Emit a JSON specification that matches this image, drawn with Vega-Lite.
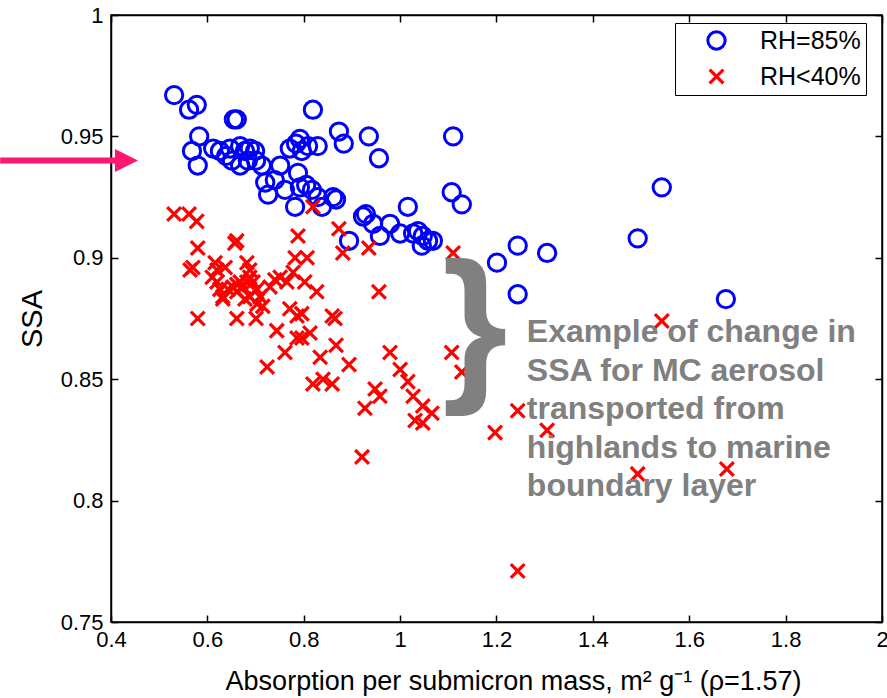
{
  "$schema": "https://vega.github.io/schema/vega-lite/v6.json",
  "width": 771,
  "height": 607,
  "autosize": "none",
  "padding": {"left": 111, "top": 15, "right": 5, "bottom": 76},
  "background": "white",
  "config": {
    "view": {"stroke": "black", "strokeWidth": 1.5},
    "axis": {
      "grid": false,
      "domainColor": "black",
      "domainWidth": 1.5,
      "tickColor": "black",
      "tickWidth": 1.5,
      "tickSize": -7,
      "labelFont": "Liberation Sans",
      "labelFontSize": 22,
      "labelColor": "black",
      "titleFont": "Liberation Sans",
      "titleFontWeight": "normal",
      "titleColor": "black"
    },
    "legend": {
      "labelFont": "Liberation Sans",
      "labelFontSize": 24,
      "labelColor": "black"
    }
  },
  "datasets": {
    "pts": [
      {"x": 0.531, "y": 0.967, "series": "RH=85%"},
      {"x": 0.562, "y": 0.961, "series": "RH=85%"},
      {"x": 0.578, "y": 0.963, "series": "RH=85%"},
      {"x": 0.583, "y": 0.950, "series": "RH=85%"},
      {"x": 0.568, "y": 0.944, "series": "RH=85%"},
      {"x": 0.580, "y": 0.938, "series": "RH=85%"},
      {"x": 0.612, "y": 0.945, "series": "RH=85%"},
      {"x": 0.626, "y": 0.944, "series": "RH=85%"},
      {"x": 0.639, "y": 0.942, "series": "RH=85%"},
      {"x": 0.655, "y": 0.957, "series": "RH=85%"},
      {"x": 0.661, "y": 0.957, "series": "RH=85%"},
      {"x": 0.647, "y": 0.945, "series": "RH=85%"},
      {"x": 0.651, "y": 0.940, "series": "RH=85%"},
      {"x": 0.668, "y": 0.938, "series": "RH=85%"},
      {"x": 0.678, "y": 0.944, "series": "RH=85%"},
      {"x": 0.688, "y": 0.945, "series": "RH=85%"},
      {"x": 0.699, "y": 0.944, "series": "RH=85%"},
      {"x": 0.668, "y": 0.946, "series": "RH=85%"},
      {"x": 0.684, "y": 0.940, "series": "RH=85%"},
      {"x": 0.701, "y": 0.940, "series": "RH=85%"},
      {"x": 0.713, "y": 0.938, "series": "RH=85%"},
      {"x": 0.720, "y": 0.931, "series": "RH=85%"},
      {"x": 0.726, "y": 0.926, "series": "RH=85%"},
      {"x": 0.740, "y": 0.932, "series": "RH=85%"},
      {"x": 0.751, "y": 0.938, "series": "RH=85%"},
      {"x": 0.761, "y": 0.928, "series": "RH=85%"},
      {"x": 0.771, "y": 0.945, "series": "RH=85%"},
      {"x": 0.784, "y": 0.947, "series": "RH=85%"},
      {"x": 0.792, "y": 0.949, "series": "RH=85%"},
      {"x": 0.796, "y": 0.944, "series": "RH=85%"},
      {"x": 0.809, "y": 0.946, "series": "RH=85%"},
      {"x": 0.819, "y": 0.961, "series": "RH=85%"},
      {"x": 0.829, "y": 0.946, "series": "RH=85%"},
      {"x": 0.788, "y": 0.935, "series": "RH=85%"},
      {"x": 0.782, "y": 0.921, "series": "RH=85%"},
      {"x": 0.792, "y": 0.929, "series": "RH=85%"},
      {"x": 0.805, "y": 0.930, "series": "RH=85%"},
      {"x": 0.817, "y": 0.928, "series": "RH=85%"},
      {"x": 0.829, "y": 0.925, "series": "RH=85%"},
      {"x": 0.838, "y": 0.921, "series": "RH=85%"},
      {"x": 0.861, "y": 0.925, "series": "RH=85%"},
      {"x": 0.867, "y": 0.924, "series": "RH=85%"},
      {"x": 0.873, "y": 0.952, "series": "RH=85%"},
      {"x": 0.883, "y": 0.947, "series": "RH=85%"},
      {"x": 0.894, "y": 0.907, "series": "RH=85%"},
      {"x": 0.923, "y": 0.917, "series": "RH=85%"},
      {"x": 0.929, "y": 0.918, "series": "RH=85%"},
      {"x": 0.935, "y": 0.950, "series": "RH=85%"},
      {"x": 0.944, "y": 0.914, "series": "RH=85%"},
      {"x": 0.956, "y": 0.941, "series": "RH=85%"},
      {"x": 0.958, "y": 0.909, "series": "RH=85%"},
      {"x": 0.979, "y": 0.914, "series": "RH=85%"},
      {"x": 1.000, "y": 0.910, "series": "RH=85%"},
      {"x": 1.016, "y": 0.921, "series": "RH=85%"},
      {"x": 1.027, "y": 0.910, "series": "RH=85%"},
      {"x": 1.037, "y": 0.911, "series": "RH=85%"},
      {"x": 1.047, "y": 0.909, "series": "RH=85%"},
      {"x": 1.058, "y": 0.907, "series": "RH=85%"},
      {"x": 1.068, "y": 0.907, "series": "RH=85%"},
      {"x": 1.045, "y": 0.905, "series": "RH=85%"},
      {"x": 1.110, "y": 0.950, "series": "RH=85%"},
      {"x": 1.107, "y": 0.927, "series": "RH=85%"},
      {"x": 1.128, "y": 0.922, "series": "RH=85%"},
      {"x": 1.201, "y": 0.898, "series": "RH=85%"},
      {"x": 1.244, "y": 0.905, "series": "RH=85%"},
      {"x": 1.244, "y": 0.885, "series": "RH=85%"},
      {"x": 1.305, "y": 0.902, "series": "RH=85%"},
      {"x": 1.493, "y": 0.908, "series": "RH=85%"},
      {"x": 1.543, "y": 0.929, "series": "RH=85%"},
      {"x": 1.676, "y": 0.883, "series": "RH=85%"},
      {"x": 0.531, "y": 0.918, "series": "RH<40%"},
      {"x": 0.562, "y": 0.918, "series": "RH<40%"},
      {"x": 0.578, "y": 0.915, "series": "RH<40%"},
      {"x": 0.580, "y": 0.904, "series": "RH<40%"},
      {"x": 0.661, "y": 0.907, "series": "RH<40%"},
      {"x": 0.657, "y": 0.906, "series": "RH<40%"},
      {"x": 0.564, "y": 0.895, "series": "RH<40%"},
      {"x": 0.570, "y": 0.896, "series": "RH<40%"},
      {"x": 0.616, "y": 0.898, "series": "RH<40%"},
      {"x": 0.637, "y": 0.896, "series": "RH<40%"},
      {"x": 0.682, "y": 0.898, "series": "RH<40%"},
      {"x": 0.688, "y": 0.895, "series": "RH<40%"},
      {"x": 0.788, "y": 0.909, "series": "RH<40%"},
      {"x": 0.807, "y": 0.900, "series": "RH<40%"},
      {"x": 0.782, "y": 0.900, "series": "RH<40%"},
      {"x": 0.819, "y": 0.921, "series": "RH<40%"},
      {"x": 0.873, "y": 0.912, "series": "RH<40%"},
      {"x": 0.881, "y": 0.902, "series": "RH<40%"},
      {"x": 0.935, "y": 0.904, "series": "RH<40%"},
      {"x": 0.956, "y": 0.886, "series": "RH<40%"},
      {"x": 0.979, "y": 0.861, "series": "RH<40%"},
      {"x": 0.580, "y": 0.875, "series": "RH<40%"},
      {"x": 0.661, "y": 0.875, "series": "RH<40%"},
      {"x": 0.701, "y": 0.875, "series": "RH<40%"},
      {"x": 0.744, "y": 0.870, "series": "RH<40%"},
      {"x": 0.761, "y": 0.861, "series": "RH<40%"},
      {"x": 0.786, "y": 0.867, "series": "RH<40%"},
      {"x": 0.796, "y": 0.867, "series": "RH<40%"},
      {"x": 0.813, "y": 0.869, "series": "RH<40%"},
      {"x": 0.771, "y": 0.879, "series": "RH<40%"},
      {"x": 0.786, "y": 0.876, "series": "RH<40%"},
      {"x": 0.802, "y": 0.890, "series": "RH<40%"},
      {"x": 0.827, "y": 0.886, "series": "RH<40%"},
      {"x": 0.834, "y": 0.859, "series": "RH<40%"},
      {"x": 0.859, "y": 0.876, "series": "RH<40%"},
      {"x": 0.865, "y": 0.875, "series": "RH<40%"},
      {"x": 0.867, "y": 0.864, "series": "RH<40%"},
      {"x": 0.894, "y": 0.856, "series": "RH<40%"},
      {"x": 0.724, "y": 0.855, "series": "RH<40%"},
      {"x": 0.819, "y": 0.848, "series": "RH<40%"},
      {"x": 0.840, "y": 0.850, "series": "RH<40%"},
      {"x": 0.859, "y": 0.848, "series": "RH<40%"},
      {"x": 0.610, "y": 0.892, "series": "RH<40%"},
      {"x": 0.620, "y": 0.890, "series": "RH<40%"},
      {"x": 0.626, "y": 0.887, "series": "RH<40%"},
      {"x": 0.632, "y": 0.884, "series": "RH<40%"},
      {"x": 0.643, "y": 0.887, "series": "RH<40%"},
      {"x": 0.653, "y": 0.888, "series": "RH<40%"},
      {"x": 0.661, "y": 0.889, "series": "RH<40%"},
      {"x": 0.668, "y": 0.890, "series": "RH<40%"},
      {"x": 0.674, "y": 0.888, "series": "RH<40%"},
      {"x": 0.682, "y": 0.890, "series": "RH<40%"},
      {"x": 0.688, "y": 0.892, "series": "RH<40%"},
      {"x": 0.695, "y": 0.890, "series": "RH<40%"},
      {"x": 0.703, "y": 0.887, "series": "RH<40%"},
      {"x": 0.709, "y": 0.884, "series": "RH<40%"},
      {"x": 0.688, "y": 0.884, "series": "RH<40%"},
      {"x": 0.715, "y": 0.880, "series": "RH<40%"},
      {"x": 0.730, "y": 0.888, "series": "RH<40%"},
      {"x": 0.740, "y": 0.891, "series": "RH<40%"},
      {"x": 0.751, "y": 0.892, "series": "RH<40%"},
      {"x": 0.765, "y": 0.890, "series": "RH<40%"},
      {"x": 0.778, "y": 0.894, "series": "RH<40%"},
      {"x": 0.620, "y": 0.895, "series": "RH<40%"},
      {"x": 0.632, "y": 0.883, "series": "RH<40%"},
      {"x": 0.661, "y": 0.886, "series": "RH<40%"},
      {"x": 0.678, "y": 0.883, "series": "RH<40%"},
      {"x": 0.703, "y": 0.881, "series": "RH<40%"},
      {"x": 1.110, "y": 0.902, "series": "RH<40%"},
      {"x": 0.796, "y": 0.877, "series": "RH<40%"},
      {"x": 1.107, "y": 0.861, "series": "RH<40%"},
      {"x": 1.000, "y": 0.854, "series": "RH<40%"},
      {"x": 1.128, "y": 0.853, "series": "RH<40%"},
      {"x": 1.016, "y": 0.849, "series": "RH<40%"},
      {"x": 0.948, "y": 0.846, "series": "RH<40%"},
      {"x": 0.958, "y": 0.843, "series": "RH<40%"},
      {"x": 1.027, "y": 0.843, "series": "RH<40%"},
      {"x": 0.927, "y": 0.838, "series": "RH<40%"},
      {"x": 1.047, "y": 0.839, "series": "RH<40%"},
      {"x": 1.066, "y": 0.836, "series": "RH<40%"},
      {"x": 1.031, "y": 0.833, "series": "RH<40%"},
      {"x": 1.047, "y": 0.832, "series": "RH<40%"},
      {"x": 0.921, "y": 0.818, "series": "RH<40%"},
      {"x": 1.197, "y": 0.828, "series": "RH<40%"},
      {"x": 1.244, "y": 0.837, "series": "RH<40%"},
      {"x": 1.305, "y": 0.829, "series": "RH<40%"},
      {"x": 1.543, "y": 0.874, "series": "RH<40%"},
      {"x": 1.493, "y": 0.811, "series": "RH<40%"},
      {"x": 1.678, "y": 0.813, "series": "RH<40%"},
      {"x": 1.244, "y": 0.771, "series": "RH<40%"}
    ],
    "arrow": [{"x": 0.17, "x2": 0.41, "y": 0.9401}],
    "head": [{"x": 0.432, "y": 0.9401}],
    "brace": [{"x": 1.155, "y": 0.8493, "t": "}"}],
    "note": [{"x": 1.263, "y": 0.8653, "t": ["Example of change in", "SSA for MC aerosol", "transported from", "highlands to marine", "boundary layer"]}]
  },
  "layer": [
    {
      "data": {"name": "pts"},
      "mark": {"type": "point", "filled": false, "opacity": 1},
      "encoding": {
        "x": {
          "field": "x", "type": "quantitative",
          "scale": {"domain": [0.4, 2], "nice": false, "zero": false},
          "axis": {
            "orient": "bottom",
            "values": [0.4, 0.6, 0.8, 1, 1.2, 1.4, 1.6, 1.8, 2],
            "format": "~g",
            "labelPadding": 14,
            "title": "Absorption per submicron mass, m² g⁻¹ (ρ=1.57)",
            "titleFontSize": 27,
            "titleX": 402,
            "titleY": 67,
            "titleBaseline": "alphabetic",
            "titleAlign": "center",
            "labelFlush": false,
            "labelOverlap": false
          }
        },
        "y": {
          "field": "y", "type": "quantitative",
          "scale": {"domain": [0.75, 1], "nice": false, "zero": false},
          "axis": {
            "orient": "left",
            "values": [0.75, 0.8, 0.85, 0.9, 0.95, 1],
            "format": "~g",
            "labelPadding": 15,
            "title": "SSA",
            "titleFontSize": 29,
            "titleX": -70,
            "titleBaseline": "alphabetic",
            "labelFlush": false,
            "labelOverlap": false
          }
        },
        "color": {
          "field": "series", "type": "nominal",
          "scale": {"domain": ["RH=85%", "RH<40%"], "range": ["#0000ff", "#ff0000"]},
          "legend": {
            "title": null,
            "orient": "none",
            "legendX": 564,
            "legendY": 8,
            "fillColor": "white",
            "strokeColor": "black",
            "padding": 5,
            "symbolOffset": 24,
            "labelOffset": 31,
            "rowPadding": 7,
            "symbolSize": 190,
            "symbolStrokeWidth": 3.2,
            "labelFontSize": 25,
            "labelExpr": "datum.label + '\u00a0\u00a0\u00a0\u00a0'"
          }
        },
        "shape": {
          "field": "series", "type": "nominal",
          "scale": {"domain": ["RH=85%", "RH<40%"], "range": ["circle", "M-1,-1L1,1M-1,1L1,-1"]}
        },
        "size": {
          "field": "series", "type": "nominal",
          "scale": {"domain": ["RH=85%", "RH<40%"], "range": [300, 190]},
          "legend": null
        },
        "strokeWidth": {
          "field": "series", "type": "nominal",
          "scale": {"domain": ["RH=85%", "RH<40%"], "range": [3, 3.2]},
          "legend": null
        }
      }
    },
    {
      "data": {"name": "arrow"},
      "mark": {"type": "rule", "color": "#ff1670", "strokeWidth": 6},
      "encoding": {
        "x": {
          "field": "x", "type": "quantitative",
          "scale": {"domain": [0.4, 2], "nice": false, "zero": false},
          "axis": {"orient": "top", "values": [0.4, 0.6, 0.8, 1, 1.2, 1.4, 1.6, 1.8, 2], "labels": false, "title": null}
        },
        "x2": {"field": "x2"},
        "y": {
          "field": "y", "type": "quantitative",
          "scale": {"domain": [0.75, 1], "nice": false, "zero": false},
          "axis": {"orient": "right", "values": [0.75, 0.8, 0.85, 0.9, 0.95, 1], "labels": false, "title": null}
        }
      }
    },
    {
      "data": {"name": "head"},
      "mark": {"type": "point", "shape": "M-1,-1L1,0L-1,1Z", "filled": true, "color": "#ff1670", "size": 529, "opacity": 1},
      "encoding": {
        "x": {"field": "x", "type": "quantitative", "scale": {"domain": [0.4, 2], "nice": false, "zero": false}, "axis": null},
        "y": {"field": "y", "type": "quantitative", "scale": {"domain": [0.75, 1], "nice": false, "zero": false}, "axis": null}
      }
    },
    {
      "data": {"name": "brace"},
      "mark": {"type": "text", "font": "Liberation Sans", "fontWeight": "bold", "fontSize": 168, "color": "#808080", "align": "center", "baseline": "alphabetic"},
      "encoding": {
        "x": {"field": "x", "type": "quantitative", "scale": {"domain": [0.4, 2], "nice": false, "zero": false}, "axis": null},
        "y": {"field": "y", "type": "quantitative", "scale": {"domain": [0.75, 1], "nice": false, "zero": false}, "axis": null},
        "text": {"field": "t"}
      }
    },
    {
      "data": {"name": "note"},
      "mark": {"type": "text", "font": "Liberation Sans", "fontWeight": "bold", "fontSize": 32, "lineHeight": 38.5, "color": "#808080", "align": "left", "baseline": "alphabetic"},
      "encoding": {
        "x": {"field": "x", "type": "quantitative", "scale": {"domain": [0.4, 2], "nice": false, "zero": false}, "axis": null},
        "y": {"field": "y", "type": "quantitative", "scale": {"domain": [0.75, 1], "nice": false, "zero": false}, "axis": null},
        "text": {"field": "t"}
      }
    }
  ],
  "resolve": {"axis": {"x": "independent", "y": "independent"}}
}
